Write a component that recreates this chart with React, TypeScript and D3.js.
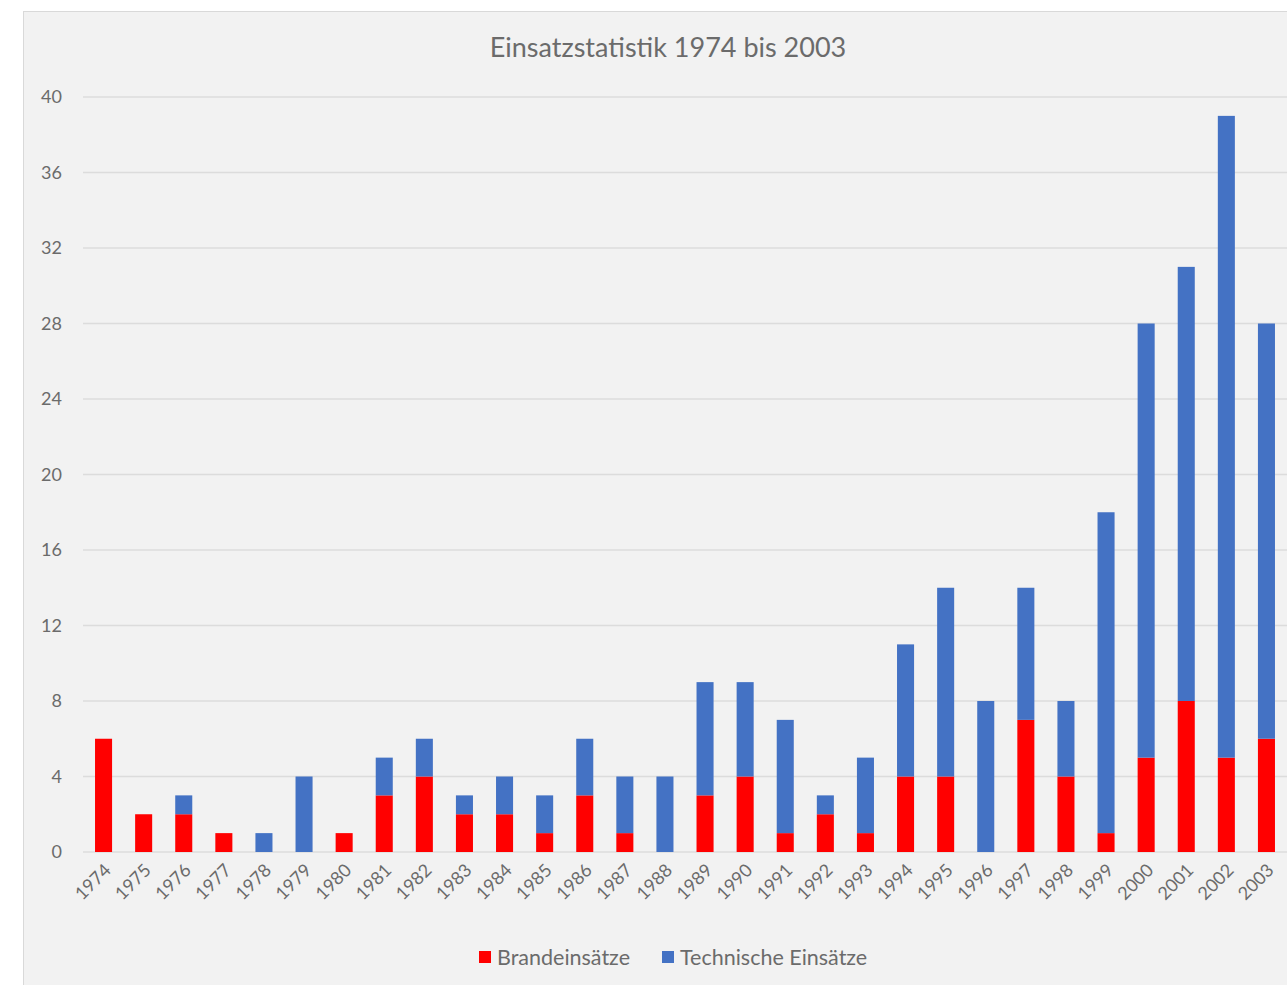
import React, { useEffect, useRef } from 'react';
import * as d3 from 'd3';

const years = [
  '1974', '1975', '1976', '1977', '1978', '1979', '1980', '1981', '1982', '1983',
  '1984', '1985', '1986', '1987', '1988', '1989', '1990', '1991', '1992', '1993',
  '1994', '1995', '1996', '1997', '1998', '1999', '2000', '2001', '2002', '2003',
];
const brand = [6, 2, 2, 1, 0, 0, 1, 3, 4, 2, 2, 1, 3, 1, 0, 3, 4, 1, 2, 1, 4, 4, 0, 7, 4, 1, 5, 8, 5, 6];
const technisch = [0, 0, 1, 0, 1, 4, 0, 2, 2, 1, 2, 2, 3, 3, 4, 6, 5, 6, 1, 4, 7, 10, 8, 7, 4, 17, 23, 23, 34, 22];
const yTicks = [0, 4, 8, 12, 16, 20, 24, 28, 32, 36, 40];
const seriesNames = ['Brandeinsätze', 'Technische Einsätze'];
const colors = ['#ff0000', '#4472c4'];

const App = () => {
  const svgRef = useRef<SVGSVGElement>(null);

  useEffect(() => {
    const W = 1287, H = 985;
    const margin = { top: 97, left: 83, bottom: 133 };
    const font = "Lato, 'Open Sans', sans-serif";
    const textColor = '#6b6b6b';

    const svg = d3.select(svgRef.current);
    svg.selectAll('*').remove();
    svg.attr('width', W).attr('height', H);

    // panel
    svg.append('rect').attr('width', W).attr('height', H).attr('fill', '#ffffff');
    svg.append('rect')
      .attr('x', 23.5).attr('y', 11.5)
      .attr('width', W).attr('height', H)
      .attr('fill', '#f2f2f2')
      .attr('stroke', '#d9d9d9');

    const rows = years.map((y, i) => ({ year: y, brand: brand[i], tech: technisch[i] }));

    // step of ~40.1px per year, bars ~17px wide
    const x = d3.scaleBand()
      .domain(years)
      .range([83.5, 83.5 + 40.1 * years.length])
      .paddingInner(0.575)
      .paddingOuter(0.2875);

    const y = d3.scaleLinear().domain([0, 40]).range([H - margin.bottom, margin.top]);

    // gridlines
    svg.append('g')
      .selectAll('line')
      .data(yTicks)
      .enter()
      .append('line')
      .attr('x1', margin.left)
      .attr('x2', W)
      .attr('y1', d => y(d))
      .attr('y2', d => y(d))
      .attr('stroke', '#dcdcdc')
      .attr('stroke-width', 1.5);

    // y labels
    svg.append('g')
      .selectAll('text')
      .data(yTicks)
      .enter()
      .append('text')
      .attr('x', 62)
      .attr('y', d => y(d))
      .attr('dy', '0.35em')
      .attr('text-anchor', 'end')
      .attr('font-family', font)
      .attr('font-size', 18)
      .attr('fill', textColor)
      .text(d => d);

    // stacked bars
    const stack = d3.stack<any>().keys(['brand', 'tech'])(rows);
    svg.append('g')
      .selectAll('g')
      .data(stack)
      .enter()
      .append('g')
      .attr('fill', (d, i) => colors[i])
      .selectAll('rect')
      .data(d => d)
      .enter()
      .append('rect')
      .attr('x', d => x(d.data.year)!)
      .attr('width', x.bandwidth())
      .attr('y', d => y(d[1]))
      .attr('height', d => y(d[0]) - y(d[1]));

    // x labels
    svg.append('g')
      .selectAll('text')
      .data(years)
      .enter()
      .append('text')
      .attr('transform', d => `translate(${x(d)! + x.bandwidth() / 2 + 4},${H - margin.bottom + 15}) rotate(-45)`)
      .attr('text-anchor', 'end')
      .attr('dy', '0.35em')
      .attr('font-family', font)
      .attr('font-size', 18)
      .attr('fill', textColor)
      .text(d => d);

    // title
    svg.append('text')
      .attr('x', 668)
      .attr('y', 57)
      .attr('text-anchor', 'middle')
      .attr('font-family', font)
      .attr('font-size', 27)
      .attr('fill', textColor)
      .text('Einsatzstatistik 1974 bis 2003');

    // legend
    const legendX = [479, 662];
    const legend = svg.append('g')
      .selectAll('g')
      .data(seriesNames)
      .enter()
      .append('g')
      .attr('transform', (d, i) => `translate(${legendX[i]},957)`);
    legend.append('rect')
      .attr('x', 0).attr('y', -6)
      .attr('width', 12).attr('height', 12)
      .attr('fill', (d, i) => colors[i]);
    legend.append('text')
      .attr('x', 18)
      .attr('dy', '0.35em')
      .attr('font-family', font)
      .attr('font-size', 21.5)
      .attr('fill', textColor)
      .text(d => d);
  }, []);

  return <svg ref={svgRef} style={{ position: 'absolute', left: 0, top: 0, display: 'block' }} />;
};

export default App;
